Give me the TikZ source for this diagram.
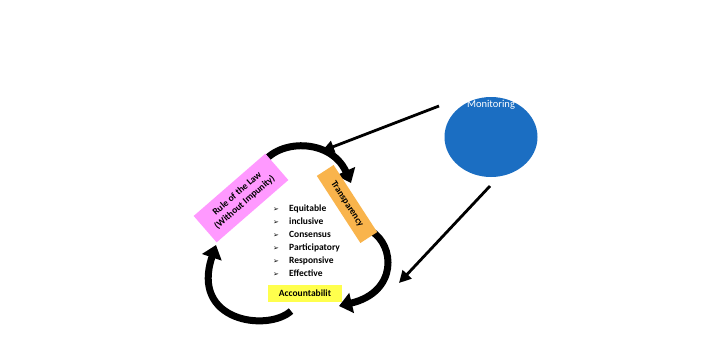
\documentclass[tikz,border=0pt]{standalone}
\usepackage{fontspec}
\setmainfont{Carlito}
\newfontfamily\symfont{DejaVu Sans}
\usetikzlibrary{arrows.meta,shapes.geometric}
\definecolor{monblue}{HTML}{1B6EC2}
\definecolor{rulepink}{HTML}{FF99FF}
\definecolor{transorange}{HTML}{F9B44C}
\definecolor{acctyellow}{HTML}{FFFF4D}
\tikzset{
  cyc/.style={line width=7pt, -{Triangle[width=20pt,length=13pt]}},
  arr/.style={line width=2.8pt, -{Triangle[width=12pt,length=12pt]}},
  tag/.style={inner sep=0pt, font=\fontsize{9.5}{11.5}\selectfont\bfseries, text=black, align=center},
  item/.style={anchor=base west, inner sep=0pt, font=\fontsize{9.5}{11}\selectfont\bfseries},
  bul/.style={anchor=base, inner sep=0pt, font=\symfont\fontsize{7}{8}\selectfont}
}
\begin{document}
\begin{tikzpicture}[x=1pt,y=-1pt]
\useasboundingbox[fill=white] (0,0) rectangle (723,359);

% Monitoring
\node[ellipse, fill=monblue, minimum width=93pt, minimum height=80pt, inner sep=0pt] (mon) at (491,137) {};
\node[text=white, inner sep=0pt, font=\fontsize{10.5}{12}\selectfont] (montext) at (491,105) {Monitoring};

% cycle arcs
\coordinate (ta) at (258,172);
\coordinate (tb) at (351,183);
\coordinate (ra) at (371,231);
\coordinate (rb) at (339,306);
\coordinate (la) at (291,311);
\coordinate (lb) at (216,245);
\draw[cyc] (ta) .. controls (270,138) and (330,136) .. (tb);
\draw[cyc] (ra) .. controls (395,245) and (398,292) .. (rb);
\draw[cyc] (la) .. controls (268,332) and (190,322) .. (lb);

% boxes
\node[tag, fill=rulepink, minimum width=95pt, minimum height=35pt, rotate=41] (rule) at (241,198) {Rule of the Law\\(Without Impunity)};
\node[tag, fill=transorange, minimum width=80pt, minimum height=20pt, rotate=-57] (trans) at (347,204) {Transparency};
\node[tag, fill=acctyellow, minimum width=74pt, minimum height=17pt] (acct) at (305,293) {Accountabilit};

% list
\foreach \t [count=\i] in {Equitable,inclusive,Consensus,Participatory,Responsive,Effective}{
  \node[bul] (b\i) at (276,{211.5+13*(\i-1)}) {➢};
  \node[item] (l\i) at (289,{211.5+13*(\i-1)}) {\t};
}

% monitoring arrows
\coordinate (m1) at (439,106);
\coordinate (m2) at (490,186);
\coordinate (e1) at (322,151);
\coordinate (e2) at (399,283);
\draw[arr] (m1) -- (e1);
\draw[arr] (m2) -- (e2);
\end{tikzpicture}
\end{document}
